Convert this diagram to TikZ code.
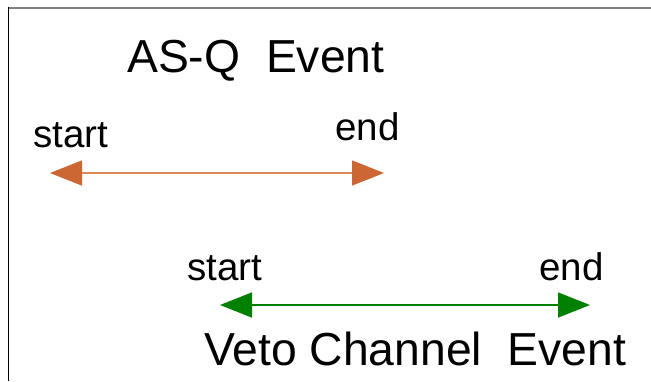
\documentclass[tikz,border=0pt]{standalone}
\usepackage{fontspec}
\setmainfont{Liberation Sans}
\usetikzlibrary{arrows.meta}
\definecolor{asq}{HTML}{CC6633}
\definecolor{asqline}{HTML}{D98A5E}
\definecolor{veto}{HTML}{008000}
\begin{document}
\begin{tikzpicture}[x=1pt,y=-1pt,
  big/.style={inner sep=0pt,anchor=base west,font=\fontsize{46.3}{54}\selectfont},
  small/.style={inner sep=0pt,anchor=base west,font=\fontsize{38.5}{46}\selectfont},
  span/.style={line width=1.5pt,{Triangle[length=32pt,width=25pt,color=#1,fill=#1]}-{Triangle[length=32pt,width=25pt,color=#1,fill=#1]}}]
\useasboundingbox (0,0) rectangle (651,381);
\draw[gray,line width=2pt] (8,7.5) -- (651,7.5);
\draw[black,line width=1.5pt] (8.5,7) -- (8.5,381);
\node[big] (asqtitle) at (127,72) {AS-Q~~Event};
\node[small] (asqstart) at (33,147) {start};
\node[small] (asqend) at (335,140) {end};
\coordinate (a1) at (50,173);
\coordinate (a2) at (384,173);
\draw[span=asq,draw=asqline] (a1) -- (a2);
\node[small] (vstart) at (187,280) {start};
\node[small] (vend) at (539,280) {end};
\coordinate (v1) at (220,305);
\coordinate (v2) at (590,305);
\draw[span=veto,draw=veto] (v1) -- (v2);
\node[big] (vetotitle) at (204,365) {Veto Channel~~Event};
\end{tikzpicture}
\end{document}
